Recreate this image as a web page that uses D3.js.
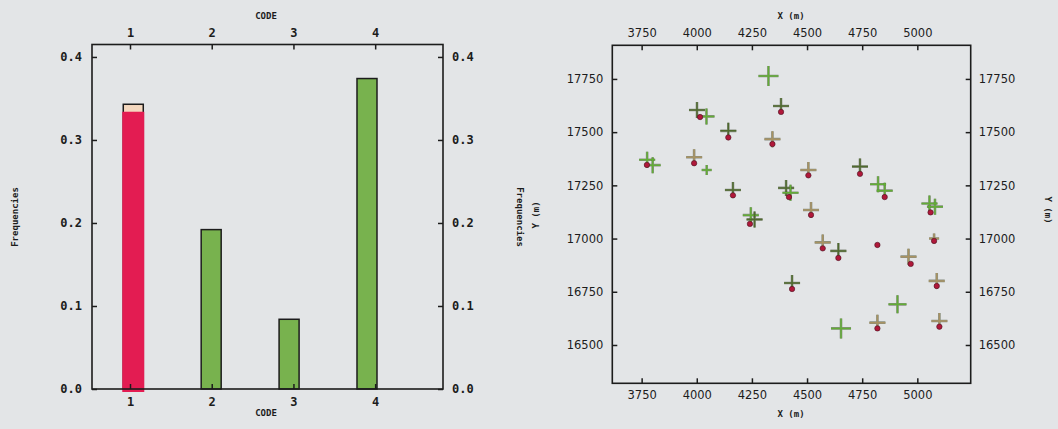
<!DOCTYPE html>
<html>
<head>
<meta charset="utf-8">
<script src="https://cdn.jsdelivr.net/npm/d3@7/dist/d3.min.js"></script>
<style>
  html, body { margin: 0; padding: 0; background: #e3e5e7; }
  svg { display: block; }
  .tick text { fill: #1c1c1c; }
  .tick line { stroke: #1c1c1c; stroke-width: 1.5; }
</style>
</head>
<body>
<svg id="chart" width="1058" height="429"></svg>
<script>
// ---- Histogram of CODE frequencies ----
const barCodes = [1, 2, 3, 4];
const barFreq = [0.343, 0.192, 0.084, 0.374];   // total frequency per code
const barCap  = [0.009, 0, 0, 0];               // light upper part of the stacked bar
const freqTicks = [0.0, 0.1, 0.2, 0.3, 0.4];

// ---- Sample locations (X, Y in metres) ----
// crosses: one per sample of codes 2-4; n sets the symbol size
const crossX    = [4325, 4382, 4001, 4044, 4143, 4343, 3775, 3800, 3988, 4045, 4164, 4405, 4425, 4506, 4740, 4822, 4852, 4518, 5055, 5080, 4245, 4262, 4571, 4642, 4960, 5076, 4432, 5088, 4910, 4654, 4819, 5100];
const crossY    = [17764, 17623, 17604, 17574, 17506, 17467, 17370, 17345, 17382, 17322, 17228, 17238, 17215, 17322, 17338, 17255, 17225, 17134, 17165, 17150, 17110, 17090, 16982, 16942, 16915, 17000, 16791, 16801, 16691, 16578, 16605, 16613];
const crossCode = [4, 3, 3, 4, 3, 2, 4, 4, 2, 4, 3, 3, 4, 2, 3, 4, 4, 2, 4, 4, 4, 3, 2, 3, 2, 2, 3, 2, 4, 4, 2, 2];
const crossN    = [3, 2, 2, 2, 2, 2, 2, 2, 2, 1, 2, 2, 2, 2, 2, 2, 2, 2, 2, 2, 2, 2, 2, 2, 2, 1, 2, 2, 2.5, 3, 2, 2];
// dots: samples of code 1
const dotX = [4382, 4015, 4143, 4343, 3774, 3988, 4164, 4418, 4506, 4740, 4852, 4518, 5060, 4241, 4571, 4642, 4819, 4970, 5076, 4432, 5088, 4819, 5100];
const dotY = [17595, 17571, 17475, 17444, 17346, 17354, 17203, 17195, 17297, 17304, 17195, 17111, 17123, 17069, 16954, 16909, 16970, 16881, 16989, 16763, 16777, 16578, 16586];
const xTicks = [3750, 4000, 4250, 4500, 4750, 5000];
const yTicks = [16500, 16750, 17000, 17250, 17500, 17750];

const svg = d3.select("#chart");
const INK = "#1c1c1c";
const monoFont = "'DejaVu Sans Mono', monospace";
const sansFont = "'DejaVu Sans', sans-serif";

function frame(g, x0, y0, x1, y1) {
  g.append("rect")
    .attr("x", x0).attr("y", y0)
    .attr("width", x1 - x0).attr("height", y1 - y0)
    .attr("fill", "none").attr("stroke", INK).attr("stroke-width", 1.6);
}

function styleAxis(sel, font, size) {
  sel.select(".domain").remove();
  sel.selectAll("text")
    .style("font-family", font)
    .style("font-size", size + "px")
    .style("font-weight", "bold");
}

// ================= Left panel: histogram =================
(function () {
  const L = 92, R = 443, T = 44.5, B = 389;
  const x = d3.scaleLinear().domain([0.535, 4.83]).range([L, R]);
  const y = d3.scaleLinear().domain([0, 0.415]).range([B, T]);
  const xBar = d3.scalePoint().domain(barCodes).range([x(1.04), x(3.9)]);
  const barW = 20;
  const g = svg.append("g");

  const bars = barCodes.map((c, i) => ({ code: c, total: barFreq[i], cap: barCap[i] }));

  // outlined bar for the full height
  g.selectAll("rect.bar").data(bars).enter().append("rect")
    .attr("class", "bar")
    .attr("x", d => xBar(d.code) - barW / 2)
    .attr("y", d => y(d.total))
    .attr("width", barW)
    .attr("height", d => y(0) - y(d.total))
    .attr("fill", d => d.code === 1 ? "#f4d8bf" : "#78b24e")
    .attr("stroke", INK).attr("stroke-width", 1.5);

  // code 1: lower crimson part
  g.selectAll("rect.low").data(bars.filter(d => d.code === 1)).enter().append("rect")
    .attr("class", "low")
    .attr("x", d => xBar(d.code) - barW / 2 - 1)
    .attr("y", d => y(d.total - d.cap))
    .attr("width", barW + 2)
    .attr("height", d => y(0) - y(d.total - d.cap) + 3)
    .attr("fill", "#e31c52");

  frame(g, L, T, R, B);

  const axB = g.append("g").attr("transform", `translate(0,${B})`)
    .call(d3.axisBottom(x).tickValues(barCodes).tickSize(-5).tickPadding(8).tickFormat(d3.format("d")));
  const axT = g.append("g").attr("transform", `translate(0,${T})`)
    .call(d3.axisTop(x).tickValues(barCodes).tickSize(-5).tickPadding(7.5).tickFormat(d3.format("d")));
  const axL = g.append("g").attr("transform", `translate(${L},0)`)
    .call(d3.axisLeft(y).tickValues(freqTicks).tickSize(-5).tickPadding(10).tickFormat(d3.format(".1f")));
  const axR = g.append("g").attr("transform", `translate(${R},0)`)
    .call(d3.axisRight(y).tickValues(freqTicks).tickSize(-5).tickPadding(9).tickFormat(d3.format(".1f")));
  [axB, axT, axL, axR].forEach(a => styleAxis(a, monoFont, 12));

  const lbl = (txt, tx, ty, rot) => g.append("text")
    .attr("transform", `translate(${tx},${ty}) rotate(${rot})`)
    .attr("text-anchor", "middle").attr("dominant-baseline", "central")
    .style("font-family", monoFont).style("font-size", "9px").style("font-weight", "bold")
    .attr("fill", INK).text(txt);
  lbl("CODE", 266, 16, 0);
  lbl("CODE", 266, 413, 0);
  lbl("Frequencies", 15, 217, -90);
  lbl("Frequencies", 520, 217, 90);
})();

// ================= Right panel: sample map =================
(function () {
  const L = 612.3, R = 970.7, T = 45.3, B = 383.3;
  const x = d3.scaleLinear().domain([3617, 5242]).range([L, R]);
  const y = d3.scaleLinear().domain([16320, 17908]).range([B, T]);
  const arm = d3.scaleLinear().domain([1, 2, 3]).range([5, 8, 10]);
  const crossColor = d3.scaleOrdinal().domain([2, 3, 4]).range(["#a89262", "#4f6a2e", "#62ad36"]);
  const g = svg.append("g");

  const crosses = crossX.map((cx, i) => ({ x: cx, y: crossY[i], code: crossCode[i], n: crossN[i] }));
  const dots = dotX.map((dx, i) => ({ x: dx, y: dotY[i] }));
  const crossPath = a => `M${-a},0H${a}M0,${-a}V${a}`;

  // dark under-stroke then coloured cross
  g.selectAll("path.cu").data(crosses).enter().append("path")
    .attr("class", "cu")
    .attr("transform", d => `translate(${x(d.x)},${y(d.y)})`)
    .attr("d", d => crossPath(arm(d.n)))
    .attr("stroke", "#2e3a1c").attr("stroke-opacity", 0.5).attr("stroke-width", 2.6).attr("fill", "none");
  g.selectAll("path.cr").data(crosses).enter().append("path")
    .attr("class", "cr")
    .attr("transform", d => `translate(${x(d.x)},${y(d.y)})`)
    .attr("d", d => crossPath(arm(d.n)))
    .attr("stroke", d => crossColor(d.code)).attr("stroke-width", 1.5).attr("fill", "none");

  g.selectAll("circle.dot").data(dots).enter().append("circle")
    .attr("class", "dot")
    .attr("cx", d => x(d.x)).attr("cy", d => y(d.y)).attr("r", 2.7)
    .attr("fill", "#b0183a").attr("stroke", "#4a1020").attr("stroke-width", 0.6);

  frame(g, L, T, R, B);

  const fmt = d3.format("d");
  const axB = g.append("g").attr("transform", `translate(0,${B})`)
    .call(d3.axisBottom(x).tickValues(xTicks).tickSize(-5).tickPadding(8).tickFormat(fmt));
  const axT = g.append("g").attr("transform", `translate(0,${T})`)
    .call(d3.axisTop(x).tickValues(xTicks).tickSize(-5).tickPadding(8).tickFormat(fmt));
  const axL = g.append("g").attr("transform", `translate(${L},0)`)
    .call(d3.axisLeft(y).tickValues(yTicks).tickSize(-5).tickPadding(9).tickFormat(fmt));
  const axR = g.append("g").attr("transform", `translate(${R},0)`)
    .call(d3.axisRight(y).tickValues(yTicks).tickSize(-5).tickPadding(8).tickFormat(fmt));
  [axB, axT, axL, axR].forEach(a => styleAxis(a, sansFont, 11.5));
  [axB, axT, axL, axR].forEach(a => a.selectAll("text").style("font-weight", "normal"));

  const lbl = (txt, tx, ty, rot) => g.append("text")
    .attr("transform", `translate(${tx},${ty}) rotate(${rot})`)
    .attr("text-anchor", "middle").attr("dominant-baseline", "central")
    .style("font-family", monoFont).style("font-size", "9px").style("font-weight", "bold")
    .attr("fill", INK).text(txt);
  lbl("X (m)", 791, 16, 0);
  lbl("X (m)", 791, 414, 0);
  lbl("Y (m)", 536, 215, -90);
  lbl("Y (m)", 1048, 210, 90);
})();
</script>
</body>
</html>
